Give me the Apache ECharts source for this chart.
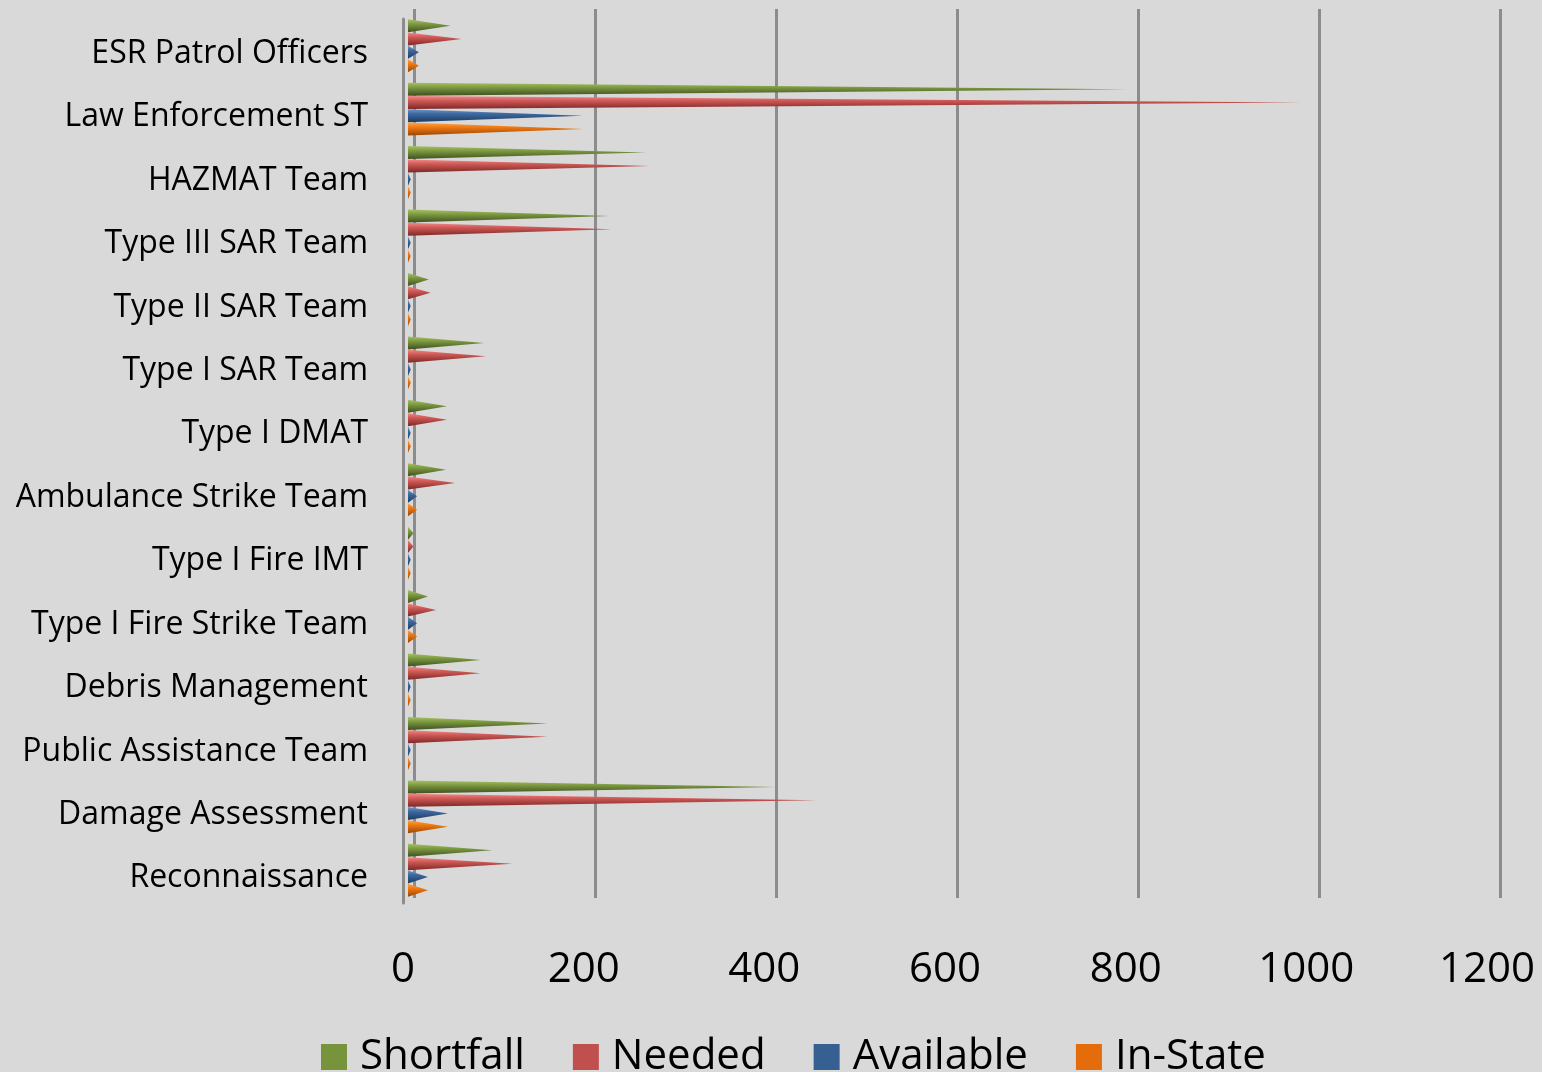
<!DOCTYPE html>
<html>
<head>
<meta charset="utf-8">
<script src="https://cdn.jsdelivr.net/npm/echarts@6/dist/echarts.min.js"></script>
<style>
  html, body { margin: 0; padding: 0; background: #d9d9d9; }
  #echart { width: 1542px; height: 1072px; }
</style>
</head>
<body>
<div id="echart"></div>
<script>
const categories = [
    'ESR Patrol Officers', 'Law Enforcement ST', 'HAZMAT Team', 'Type III SAR Team',
    'Type II SAR Team', 'Type I SAR Team', 'Type I DMAT', 'Ambulance Strike Team',
    'Type I Fire IMT', 'Type I Fire Strike Team', 'Debris Management',
    'Public Assistance Team', 'Damage Assessment', 'Reconnaissance'
];
const shortfall = [47, 794, 263, 223, 23, 84, 43, 42, 6, 22, 80, 154, 407, 93];
const needed    = [59, 987, 267, 225, 25, 86, 43, 52, 6, 31, 80, 154, 451, 115];
const available = [12, 193, 3, 3, 3, 3, 3, 10, 3, 10, 3, 3, 44, 22];
const inState   = [12, 193, 3, 3, 3, 3, 3, 10, 3, 10, 3, 3, 44, 22];
const xTicks = [0, 200, 400, 600, 800, 1000, 1200];

const chart = echarts.init(document.getElementById('echart'));

// cone look: light on top, dark at the bottom
function cone(light, base, dark) {
    return new echarts.graphic.LinearGradient(0, 0, 0, 1, [
        { offset: 0, color: light },
        { offset: 0.35, color: base },
        { offset: 1, color: dark }
    ]);
}

const seriesDefs = [
    { name: 'Shortfall', data: shortfall, flat: '#77933c', fill: cone('#a6c266', '#7f9c42', '#3f5020') },
    { name: 'Needed',    data: needed,    flat: '#c0504d', fill: cone('#f08a87', '#d05a57', '#7e2826') },
    { name: 'Available', data: available, flat: '#376092', fill: cone('#6c96cc', '#3d69a0', '#1d3a60') },
    { name: 'In-State',  data: inState,   flat: '#e46c0a', fill: cone('#ffa24a', '#f27a12', '#9a4604') }
];

const fontFam = '"Open Sans", sans-serif';

const option = {
    backgroundColor: '#d9d9d9',
    animation: false,
    grid: [
        // bars
        { left: 408, top: 14, width: 1087, height: 888 },
        // back wall grid lines
        { left: 414, top: 9, width: 1086, height: 889 },
        // front edge + tick labels
        { left: 403, top: 19, width: 1084, height: 884 },
        // category labels (sit a bit lower than the cones)
        { left: 408, top: 22, width: 1087, height: 888 }
    ],
    legend: {
        left: 316,
        top: 1031,
        itemWidth: 26,
        itemHeight: 26,
        itemGap: 48,
        icon: 'rect',
        textStyle: { fontFamily: fontFam, fontSize: 42, color: '#000', padding: [0, 0, 0, 8] },
        data: seriesDefs.map(s => ({ name: s.name, itemStyle: { color: s.flat } }))
    },
    xAxis: [
        { gridIndex: 0, type: 'value', min: 0, max: 1200, interval: 200, show: false },
        {
            gridIndex: 1, type: 'value', min: 0, max: 1200, interval: 200,
            axisLine: { show: false }, axisTick: { show: false }, axisLabel: { show: false },
            splitLine: { show: true, lineStyle: { color: '#8c8c8c', width: 3 } }
        },
        {
            gridIndex: 2, type: 'value', min: 0, max: 1200, interval: 200,
            axisLine: { show: false }, axisTick: { show: false }, splitLine: { show: false },
            axisLabel: {
                margin: 46, fontFamily: fontFam, fontSize: 42, color: '#000',
                formatter: v => xTicks.includes(v) ? String(v) : ''
            }
        },
        { gridIndex: 3, type: 'value', min: 0, max: 1200, show: false }
    ],
    yAxis: [
        { gridIndex: 0, type: 'category', data: categories, inverse: true, show: false },
        { gridIndex: 1, type: 'category', data: categories, show: false },
        {
            gridIndex: 2, type: 'category', data: categories,
            axisLine: { show: true, lineStyle: { color: '#8c8c8c', width: 3 } },
            axisTick: { show: false }, axisLabel: { show: false }
        },
        {
            gridIndex: 3, type: 'category', data: categories, inverse: true,
            axisLine: { show: false }, axisTick: { show: false }, splitLine: { show: false },
            axisLabel: { margin: 40, fontFamily: fontFam, fontSize: 32, color: '#000' }
        }
    ],
    series: seriesDefs.map(s => ({
        name: s.name,
        type: 'pictorialBar',
        xAxisIndex: 0,
        yAxisIndex: 0,
        data: s.data,
        symbol: 'path://M0,0 L100,50 L0,100 Z',
        symbolSize: ['100%', 13],
        symbolPosition: 'start',
        barCategoryGap: '16%',
        barGap: '0%',
        itemStyle: { color: s.fill }
    }))
};

chart.setOption(option);
</script>
</body>
</html>
